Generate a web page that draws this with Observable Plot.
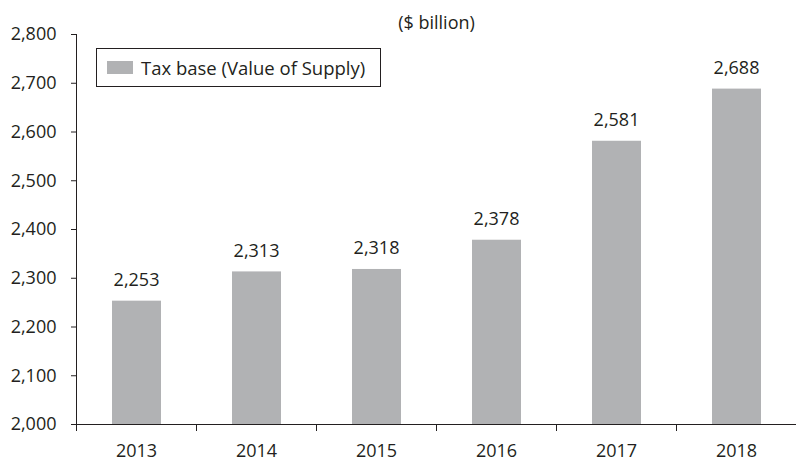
<!DOCTYPE html>
<html>
<head>
<meta charset="utf-8">
<script src="https://cdn.jsdelivr.net/npm/d3@7"></script>
<script src="https://cdn.jsdelivr.net/npm/@observablehq/plot@0.6"></script>
<style>
  html, body { margin: 0; padding: 0; background: #fff; }
  #wrap { position: relative; width: 796px; height: 466px; font-family: "Open Sans", sans-serif; color: #231f20; }
  #legend { position: absolute; left: 96px; top: 48px; width: 283px; height: 37px; border: 1px solid #231f20; background: #fff; display: flex; align-items: center; font-size: 18.5px; }
  #legend .sw { width: 26px; height: 13px; background: #b1b2b4; margin-left: 10px; margin-right: 8px; }
</style>
</head>
<body>
<div id="wrap"><div id="chart"></div><div id="legend"><span class="sw"></span><span>Tax base (Value of Supply)</span></div></div>
<script>
const years = [2013, 2014, 2015, 2016, 2017, 2018];
const taxBase = [2253, 2313, 2318, 2378, 2581, 2688];
const yTicks = [2000, 2100, 2200, 2300, 2400, 2500, 2600, 2700, 2800];
const boundaryTicks = [2012.5, 2013.5, 2014.5, 2015.5, 2016.5, 2017.5, 2018.5];
const unitLabel = "($ billion)";

const data = years.map((year, i) => ({year, value: taxBase[i]}));
const fmt = d3.format(",");
const FS = 18;

const chart = Plot.plot({
  width: 796,
  height: 466,
  marginTop: 34,
  marginBottom: 42,
  marginLeft: 76,
  marginRight: 0,
  style: {fontFamily: "'Open Sans', sans-serif", fontSize: FS + "px", color: "#231f20", background: "#fff"},
  x: {domain: [2012.5, 2018.5]},
  y: {domain: [2000, 2800]},
  marks: [
    Plot.rectY(data, {x1: d => d.year - 0.5, x2: d => d.year + 0.5, y: "value", fill: "#b1b2b4", insetLeft: 36, insetRight: 35, clip: true}),
    Plot.text(data, {x: "year", y: "value", text: d => fmt(d.value), dy: -21, fill: "#231f20", fontSize: FS}),
    Plot.axisY({ticks: yTicks, tickFormat: fmt, tickSize: 5, tickPadding: 15, label: null, stroke: "#231f20", fill: "#231f20", fontSize: FS}),
    Plot.axisX({ticks: boundaryTicks, tickSize: 7, tickFormat: () => "", label: null, stroke: "#231f20"}),
    Plot.axisX({ticks: years, tickSize: 0, tickPadding: 20, tickFormat: d => String(d), label: null, fill: "#231f20", fontSize: FS}),
    Plot.frame({anchor: "left", stroke: "#231f20"}),
    Plot.frame({anchor: "bottom", stroke: "#231f20"}),
    Plot.text([unitLabel], {frameAnchor: "top", text: d => d, dy: -18, fill: "#231f20", fontSize: FS})
  ]
});
document.getElementById("chart").appendChild(chart);
</script>
</body>
</html>
